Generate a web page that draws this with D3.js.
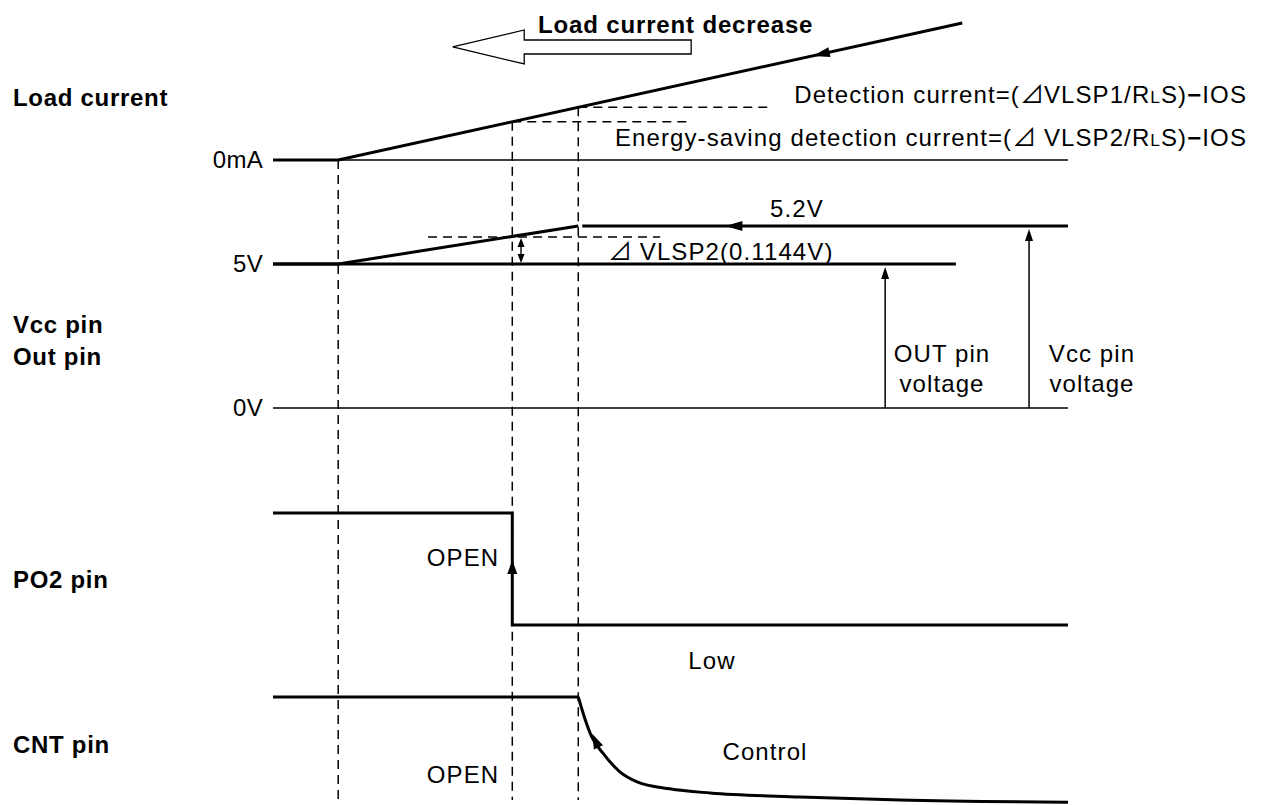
<!DOCTYPE html>
<html><head><meta charset="utf-8">
<script src="https://cdn.jsdelivr.net/npm/d3@7/dist/d3.min.js"></script>
<style>
body{margin:0;background:#fff}
text{font-family:"Liberation Sans",Arial,Helvetica,sans-serif;fill:#000;letter-spacing:1.1px}
text.b{font-weight:bold;letter-spacing:0.7px}
tspan.tri{font-family:"Noto Sans CJK JP","DejaVu Sans",sans-serif;letter-spacing:0}
</style>
</head><body>
<svg id="c" width="1262" height="805"></svg>
<script>
// ---------- data (time in arbitrary units 0..100) ----------
const markerTimes   = [8.2, 30.1, 38.4];          // ramp start, energy-saving detection, detection
const markerTopLoad = [0, 2.8, 3.85];             // load-current level where each marker starts
const loadSignal    = [[0,0],[8.2,0],[86.7,10]];  // load current (arb. units)
const loadBaseline  = [[0,0],[100,0]];
const detectionLevels = [                          // dashed current thresholds
  {t0:38.4, t1:62.5, v:3.85},
  {t0:30.1, t1:52.7, v:2.8}
];
const vccRamp       = [[0,5],[8.2,5],[38.4,5.2]];  // Vcc pin voltage (V)
const vccHigh       = [[38.9,5.2],[100,5.2]];
const outSignal     = [[0,5],[85.9,5]];            // OUT pin voltage (V)
const zeroVLine     = [[0,0],[100,0]];
const vThreshold    = {t0:19.5, t1:48.7, v:5.142};
const po2Signal     = [[0,1],[30.1,1],[30.1,0],[100,0]];
const cntFlat       = [[0,1],[38.4,1]];
const cntDecay      = [[38.4,1],[39.2,0.806],[40.1,0.63],[41.5,0.48],[43.6,0.31],[45.8,0.215],
                       [49.9,0.15],[55.0,0.111],[66.3,0.074],[78.9,0.046],[100,0.025]];
const levelLabels   = [{label:"0mA",scale:"I",v:0},{label:"5V",scale:"V",v:5},{label:"0V",scale:"V",v:0}];
const rowLabels     = [{lines:["Load current"],y:98},{lines:["Vcc pin","Out pin"],y:341},
                       {lines:["PO2 pin"],y:580},{lines:["CNT pin"],y:745}];

// ---------- scales ----------
const svg = d3.select("#c");
const x  = d3.scaleLinear().domain([0,100]).range([273,1068]);
const yI = d3.scaleLinear().domain([0,10]).range([160,23]);
const yV = d3.scaleLinear().domain([0,5,5.2]).range([408,264,226]);
const yP = d3.scaleLinear().domain([0,1]).range([625,513]);
const yC = d3.scaleLinear().domain([0,1]).range([805,697]);

const lineOf = (ys, curve) => d3.line().x(d=>x(d[0])).y(d=>ys(d[1])).curve(curve||d3.curveLinear);

function path(d, w, dash){
  const p = svg.append("path").attr("d", d).attr("fill","none").attr("stroke","#000")
     .attr("stroke-width", w).attr("stroke-linejoin","miter");
  if(dash) p.attr("stroke-dasharray", dash);
  return p;
}
function head(tx, ty, a, len, half){
  const bx = tx - len*Math.cos(a), by = ty - len*Math.sin(a);
  const px = -Math.sin(a)*half, py = Math.cos(a)*half;
  svg.append("path").attr("d", `M${tx},${ty}L${bx+px},${by+py}L${bx-px},${by-py}Z`).attr("fill","#000");
}
const DASH = "9,6";

// ---------- dashed time markers ----------
markerTimes.forEach((t,i)=>{
  path(`M${x(t)},${yI(markerTopLoad[i])}V800`, 1.5, DASH);
});

// ---------- load current ----------
path(lineOf(yI)(loadBaseline), 1.6);
path(lineOf(yI)(loadSignal), 3);
detectionLevels.forEach(d=>path(`M${x(d.t0)},${yI(d.v)}H${x(d.t1)}`, 1.5, DASH));
{ // arrow on ramp
  const a = Math.atan2(yI(loadSignal[1][1])-yI(loadSignal[2][1]), x(loadSignal[1][0])-x(loadSignal[2][0]));
  head(x(67.9), yI(7.6), a, 17, 5);
}
// hollow "decrease" arrow
{
  const tip=[x(22.6), yI(8.25)], hb=x(31.6), tail=x(52.6), hh=17, sh=7;
  const cy = tip[1];
  svg.append("path").attr("d",
    `M${tip[0]},${cy}L${hb},${cy-hh}V${cy-sh}H${tail}V${cy+sh}H${hb}V${cy+hh}Z`)
    .attr("fill","#fff").attr("stroke","#000").attr("stroke-width",1.3);
}

// ---------- Vcc / Out ----------
path(lineOf(yV)(zeroVLine), 1.6);
path(lineOf(yV)(outSignal), 3);
path(lineOf(yV)(vccRamp), 3);
path(lineOf(yV)(vccHigh), 3);
path(`M${x(vThreshold.t0)},${yV(vThreshold.v)}H${x(vThreshold.t1)}`, 1.5, DASH);
head(x(56.9), yV(5.2), Math.PI, 17, 5);
// double arrow
{
  const xx = x(31.2), y0 = yV(vThreshold.v)+1, y1 = yV(5)-1;
  path(`M${xx},${y0+6}V${y1-6}`, 1.4);
  head(xx, y0, -Math.PI/2, 9, 3.5);
  head(xx, y1,  Math.PI/2, 9, 3.5);
}
// OUT / Vcc voltage arrows
[[77.0,5],[95.1,5.2]].forEach(([t,v])=>{
  const tipY = yV(v)+3;
  path(`M${x(t)},${yV(0)}V${tipY+8}`, 1.5);
  head(x(t), tipY, -Math.PI/2, 12, 4);
});

// ---------- PO2 ----------
path(lineOf(yP)(po2Signal), 3);
head(x(30.1), yP(0.58), -Math.PI/2, 14, 5);

// ---------- CNT ----------
path(lineOf(yC)(cntFlat), 3);
path(lineOf(yC, d3.curveMonotoneX)(cntDecay), 3);
head(x(40.15), yC(0.66), Math.atan2(-13,-6), 15, 5);

// ---------- texts ----------
const FS = 24;
rowLabels.forEach(r=>{
  r.lines.forEach((s,i)=>{
    svg.append("text").attr("class","b").attr("x",13).attr("y", r.y + (i - (r.lines.length-1)/2)*32)
      .attr("dy","0.35em").attr("font-size",FS).text(s);
  });
});
levelLabels.forEach(l=>{
  svg.append("text").attr("x",263).attr("y",(l.scale==="I"?yI:yV)(l.v)).attr("dy","0.35em")
    .attr("text-anchor","end").attr("font-size",FS).style("letter-spacing","0.3px").text(l.label);
});
svg.append("text").attr("class","b").attr("x",538).attr("y",33).attr("font-size",FS)
  .style("letter-spacing","0.85px").text("Load current decrease");

function formula(xp, yp, pre, post){
  const t = svg.append("text").attr("x",xp).attr("y",yp).attr("text-anchor","end").attr("font-size",FS);
  t.append("tspan").text(pre);
  t.append("tspan").attr("class","tri").text("\u22BF");
  t.append("tspan").text(post);
  t.append("tspan").attr("font-size",FS*0.72).text("L");
  t.append("tspan").text("S)");
  t.append("tspan").attr("font-weight","bold").text("\u2212");
  t.append("tspan").text("IOS");
}
formula(1247, 103, "Detection current=(", "VLSP1/R");
formula(1247, 146, "Energy-saving detection current=(", " VLSP2/R");

svg.append("text").attr("x",797).attr("y",217).attr("text-anchor","middle").attr("font-size",FS).text("5.2V");
{
  const t = svg.append("text").attr("x",608).attr("y",260).attr("font-size",FS);
  t.append("tspan").attr("class","tri").text("\u22BF");
  t.append("tspan").text(" VLSP2(0.1144V)");
}
[["OUT pin",942],["Vcc pin",1092]].forEach(([s,cx])=>{
  svg.append("text").attr("x",cx).attr("y",362).attr("text-anchor","middle").attr("font-size",FS).text(s);
  svg.append("text").attr("x",cx).attr("y",392).attr("text-anchor","middle").attr("font-size",FS).text("voltage");
});
svg.append("text").attr("x",463).attr("y",566).attr("text-anchor","middle").attr("font-size",FS).text("OPEN");
svg.append("text").attr("x",463).attr("y",783).attr("text-anchor","middle").attr("font-size",FS).text("OPEN");
svg.append("text").attr("x",712).attr("y",669).attr("text-anchor","middle").attr("font-size",FS).text("Low");
svg.append("text").attr("x",765).attr("y",760).attr("text-anchor","middle").attr("font-size",FS).text("Control");
</script>
</body></html>
